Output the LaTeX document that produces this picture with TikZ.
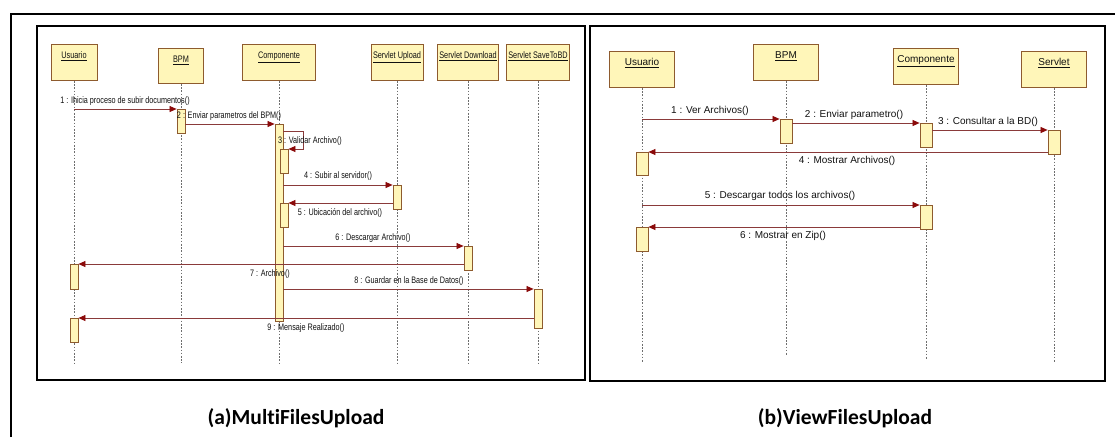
\documentclass[tikz,border=0pt]{standalone}
\usepackage{fontspec}
\setmainfont{Liberation Sans}
\newfontfamily\seqfont[FakeStretch=0.77]{Liberation Sans}
\newfontfamily\capfont[Ligatures=NoCommon]{Carlito}
\usetikzlibrary{arrows.meta}

\definecolor{boxfill}{HTML}{FFF6B9}
\definecolor{boxline}{HTML}{8E5B2E}
\definecolor{msgline}{HTML}{8A3A3A}
\definecolor{tipred}{HTML}{8B0A0A}
\definecolor{lifegray}{HTML}{6E6E6E}
\definecolor{inkgray}{HTML}{111111}

\tikzset{
  frame/.style={line width=1.5pt, black},
  head/.style={draw=boxline, fill=boxfill, line width=0.9pt, inner xsep=0pt,
    inner ysep=2pt, text height=12pt, text depth=20pt, minimum height=36pt,
    anchor=north, text=inkgray},
  heada/.style={head, font=\seqfont\fontsize{9.5}{10}\selectfont},
  headb/.style={head, font=\fontsize{10}{11}\selectfont},
  act/.style={draw=boxline, fill=boxfill, line width=0.8pt, inner sep=0pt,
    minimum width=8pt, minimum height=24pt, anchor=north},
  actb/.style={act, minimum width=12pt},
  life/.style={lifegray, line width=0.7pt, dash pattern=on 1.6pt off 1.6pt},
  msg/.style={msgline, line width=0.7pt,
    -{Triangle[length=7pt,width=6pt,fill=tipred,color=tipred]}},
  lbla/.style={font=\seqfont\fontsize{9.4}{10}\selectfont, inner sep=0pt, text=inkgray},
  lblb/.style={font=\fontsize{10}{11}\selectfont, inner sep=0pt, text=inkgray},
  captext/.style={font=\capfont\bfseries\fontsize{21.5}{24}\selectfont, inner sep=0pt}
}

\begin{document}
\begin{tikzpicture}[x=1pt, y=-1pt]
\useasboundingbox (0,0) rectangle (1115,437);

% outer frame and the two panels
\draw[line width=1.8pt] (11,437) -- (11,14) -- (1115,14);
\draw[frame] (37,26) rectangle (585,380);
\draw[frame] (590,26) rectangle (1105,381);

% ---------------- (a) MultiFilesUpload ----------------
\node[heada, minimum width=46pt] (aU)  at (74,44)  {\underline{Usuario}};
\node[heada, minimum width=45pt, minimum height=35pt, text depth=19pt] (aB) at (181,48) {\underline{BPM}};
\node[heada, minimum width=73pt] (aC)  at (279,44) {\underline{Componente}};
\node[heada, minimum width=52pt] (aUp) at (397,44) {\underline{Servlet Upload}};
\node[heada, minimum width=61pt] (aD)  at (468,44) {\underline{Servlet Download}};
\node[heada, minimum width=63pt] (aS)  at (538,44) {\underline{Servlet SaveToBD}};

\coordinate (aUe)  at (74,363);
\coordinate (aBe)  at (181,363);
\coordinate (aCe)  at (279,363);
\coordinate (aUpe) at (397,363);
\coordinate (aDe)  at (468,363);
\coordinate (aSe)  at (538,363);
\foreach \h in {aU,aB,aC,aUp,aD,aS} \draw[life] (\h.south) -- (\h e);

\node[act] (aB1)  at (181,109) {};
\node[act, minimum height=197pt] (aC1) at (279,124) {};
\node[act] (aC2)  at (284,149) {};
\node[act] (aC3)  at (284,203) {};
\node[act] (aUp1) at (397,185) {};
\node[act] (aD1)  at (468,246) {};
\node[act, minimum height=25pt] (aU1) at (74,264) {};
\node[act, minimum height=39pt] (aS1) at (538,289) {};
\node[act] (aU2)  at (74,318) {};

\draw[msg] (aU |- aB1.north) -- (aB1.north west);
\draw[msg] (aB1.east |- aC1.north) -- (aC1.north west);
\draw[msg] ([yshift=-7pt]aC1.north east) -- ++(20,0) |- (aC2.north east);
\draw[msg] (aC1.east |- aUp1.north) -- (aUp1.north west);
\draw[msg] (aUp1.west |- aC3.north) -- (aC3.north east);
\draw[msg] (aC1.east |- aD1.north) -- (aD1.north west);
\draw[msg] (aD1.west |- aU1.north) -- (aU1.north east);
\draw[msg] (aC1.east |- aS1.north) -- (aS1.north west);
\draw[msg] (aS1.west |- aU2.north) -- (aU2.north east);

\node[lbla] (la1) at (125,101) {1 : Ihicia proceso de subir documentos()};
\node[lbla] (la2) at (229,116) {2 : Enviar parametros del BPM()};
\node[lbla] (la3) at (310,141) {3 : Validar Archivo()};
\node[lbla] (la4) at (338,176) {4 : Subir al servidor()};
\node[lbla] (la5) at (340,213) {5 : Ubicación del archivo()};
\node[lbla] (la6) at (373,238) {6 : Descargar Archivo()};
\node[lbla] (la7) at (270,274) {7 : Archivo()};
\node[lbla] (la8) at (409,281) {8 : Guardar en la Base de Datos()};
\node[lbla] (la9) at (306,328) {9 : Mensaje Realizado()};

% ---------------- (b) ViewFilesUpload ----------------
\node[headb, minimum width=65pt] (bU) at (642,51) {\underline{Usuario}};
\node[headb, minimum width=65pt] (bB) at (786,44) {\underline{BPM}};
\node[headb, minimum width=65pt] (bC) at (926,48) {\underline{Componente}};
\node[headb, minimum width=65pt] (bS) at (1054,51) {\underline{Servlet}};

\coordinate (bUe) at (642,363);
\coordinate (bBe) at (786,355);
\coordinate (bCe) at (926,359);
\coordinate (bSe) at (1054,363);
\foreach \h in {bU,bB,bC,bS} \draw[life] (\h.south) -- (\h e);

\node[actb] (bB1) at (786,119) {};
\node[actb] (bC1) at (926,123) {};
\node[actb] (bS1) at (1054,130) {};
\node[actb, minimum height=23pt] (bU1) at (642,152) {};
\node[actb] (bC2) at (926,205) {};
\node[actb] (bU2) at (642,227) {};

\draw[msg] (bU |- bB1.north) -- (bB1.north west);
\draw[msg] (bB1.east |- bC1.north) -- (bC1.north west);
\draw[msg] (bC1.east |- bS1.north) -- (bS1.north west);
\draw[msg] (bS1.west |- bU1.north) -- (bU1.north east);
\draw[msg] (bU |- bC2.north) -- (bC2.north west);
\draw[msg] (bC2.west |- bU2.north) -- (bU2.north east);

\node[lblb] (lb1) at (710,111) {1 : Ver Archivos()};
\node[lblb] (lb2) at (854,115) {2 : Enviar parametro()};
\node[lblb] (lb3) at (988,122) {3 : Consultar a la BD()};
\node[lblb] (lb4) at (847,161) {4 : Mostrar Archivos()};
\node[lblb] (lb5) at (780,196) {5 : Descargar todos los archivos()};
\node[lblb] (lb6) at (783,236) {6 : Mostrar en Zip()};

% captions
\node[captext] (capa) at (296,418) {(a)MultiFilesUpload};
\node[captext] (capb) at (845,418) {(b)ViewFilesUpload};
\end{tikzpicture}
\end{document}
